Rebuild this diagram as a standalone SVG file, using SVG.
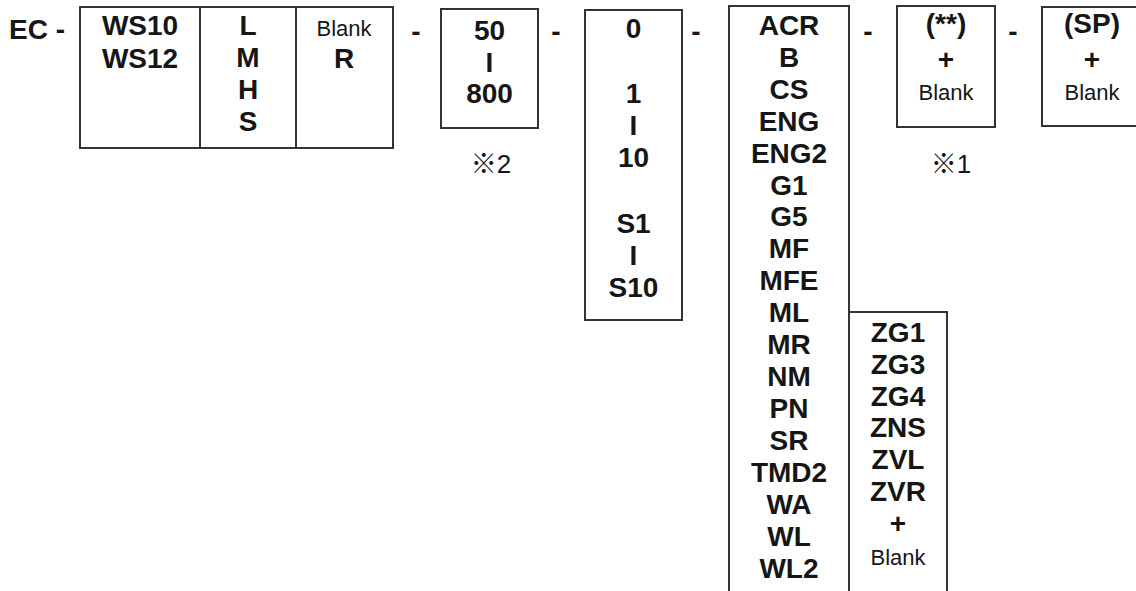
<svg xmlns="http://www.w3.org/2000/svg" width="1136" height="591" viewBox="0 0 1136 591">
<style>
.bx{fill:none;stroke:#333;stroke-width:2}
.b{font-family:"Liberation Sans",Arial,sans-serif;font-weight:bold;font-size:28px;fill:#161616;text-anchor:middle}
.r{font-family:"Liberation Sans",Arial,sans-serif;font-size:22px;fill:#161616;text-anchor:middle}
.n{font-family:"Liberation Sans","Noto Sans CJK JP",sans-serif;font-size:26px;fill:#161616;text-anchor:middle}
</style>
<rect width="1136" height="591" fill="#fff"/>
<g id="prefix">
<text class="b" x="9" y="39" style="text-anchor:start">EC -</text>
</g>
<g id="dashes">
<text class="b" x="416" y="41">-</text>
<text class="b" x="556" y="41">-</text>
<text class="b" x="696" y="41">-</text>
<text class="b" x="868" y="41">-</text>
<text class="b" x="1013" y="41">-</text>
</g>
<g id="model">
<rect class="bx" x="80" y="7" width="313" height="141"/>
<line class="bx" x1="200" y1="7" x2="200" y2="148"/>
<line class="bx" x1="296" y1="7" x2="296" y2="148"/>
<text class="b" x="140" y="35">WS10</text>
<text class="b" x="140" y="68">WS12</text>
</g>
<g id="size">
<text class="b" x="248" y="35">L</text>
<text class="b" x="248" y="67">M</text>
<text class="b" x="248" y="99">H</text>
<text class="b" x="248" y="131">S</text>
</g>
<g id="side">
<text class="r" x="344" y="36">Blank</text>
<text class="b" x="344" y="68">R</text>
</g>
<g id="length">
<rect class="bx" x="441" y="9" width="97" height="119"/>
<text class="b" x="489.5" y="40">50</text>
<text class="b" x="489.5" y="72">I</text>
<text class="b" x="489.5" y="103">800</text>
<text class="n" x="491" y="173">※2</text>
</g>
<g id="stroke">
<rect class="bx" x="585" y="10" width="97" height="310"/>
<text class="b" x="633.5" y="38">0</text>
<text class="b" x="633.5" y="103">1</text>
<text class="b" x="633.5" y="135">I</text>
<text class="b" x="633.5" y="167">10</text>
<text class="b" x="633.5" y="233">S1</text>
<text class="b" x="633.5" y="265">I</text>
<text class="b" x="633.5" y="297">S10</text>
</g>
<g id="options">
<rect class="bx" x="729" y="6" width="120" height="600"/>
<text class="b" x="789" y="35">ACR</text>
<text class="b" x="789" y="67">B</text>
<text class="b" x="789" y="99">CS</text>
<text class="b" x="789" y="131">ENG</text>
<text class="b" x="789" y="163">ENG2</text>
<text class="b" x="789" y="195">G1</text>
<text class="b" x="789" y="226">G5</text>
<text class="b" x="789" y="258">MF</text>
<text class="b" x="789" y="290">MFE</text>
<text class="b" x="789" y="322">ML</text>
<text class="b" x="789" y="354">MR</text>
<text class="b" x="789" y="386">NM</text>
<text class="b" x="789" y="418">PN</text>
<text class="b" x="789" y="450">SR</text>
<text class="b" x="789" y="482">TMD2</text>
<text class="b" x="789" y="514">WA</text>
<text class="b" x="789" y="546">WL</text>
<text class="b" x="789" y="578">WL2</text>
</g>
<g id="zoptions">
<rect class="bx" x="849" y="312" width="98" height="300"/>
<text class="b" x="898" y="342">ZG1</text>
<text class="b" x="898" y="374">ZG3</text>
<text class="b" x="898" y="406">ZG4</text>
<text class="b" x="898" y="437">ZNS</text>
<text class="b" x="898" y="469">ZVL</text>
<text class="b" x="898" y="501">ZVR</text>
<text class="b" x="898" y="533">+</text>
<text class="r" x="898" y="565">Blank</text>
</g>
<g id="custom">
<rect class="bx" x="897" y="6" width="98" height="121"/>
<text class="b" x="946" y="33">(**)</text>
<text class="b" x="946" y="69">+</text>
<text class="r" x="946" y="100">Blank</text>
<text class="n" x="951" y="173">※1</text>
</g>
<g id="special">
<rect class="bx" x="1042" y="7" width="110" height="119"/>
<text class="b" x="1092" y="33">(SP)</text>
<text class="b" x="1092" y="69">+</text>
<text class="r" x="1092" y="100">Blank</text>
</g>
</svg>
